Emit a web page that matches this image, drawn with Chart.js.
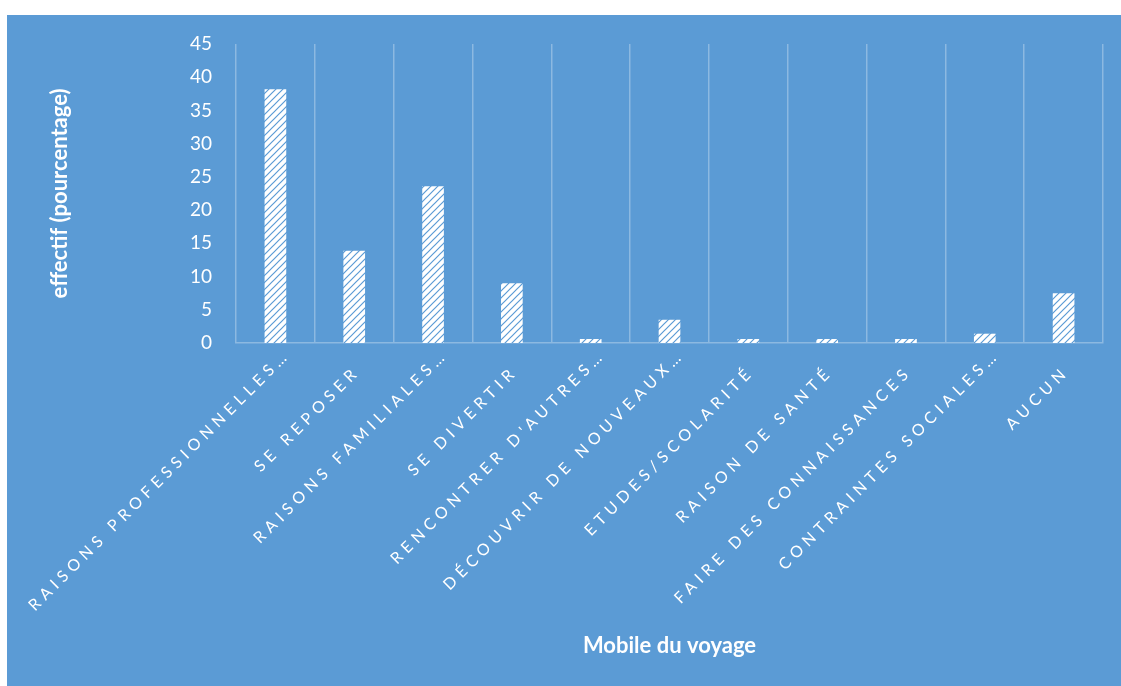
<!DOCTYPE html>
<html lang="fr">
<head>
<meta charset="utf-8">
<title>Mobile du voyage</title>
<script src="https://cdn.jsdelivr.net/npm/chart.js@4.4.1/dist/chart.umd.min.js"></script>
<style>
  html, body { margin: 0; padding: 0; background: #fff; }
  #frame {
    position: absolute; left: 7px; top: 15px;
    width: 1114px; height: 671px;
    background: #5b9bd5;
  }
  canvas { display: block; }
</style>
</head>
<body>
<div id="frame"><canvas id="mobileChart" width="1114" height="671"></canvas></div>
<script>
// ─── Data ─────────────────────────────────────────────────────────────────────
const categories = [
    'RAISONS PROFESSIONNELLES…',
    'SE REPOSER',
    'RAISONS FAMILIALES…',
    'SE DIVERTIR',
    'RENCONTRER D\'AUTRES…',
    'DÉCOUVRIR DE NOUVEAUX…',
    'ETUDES/SCOLARITÉ',
    'RAISON DE SANTÉ',
    'FAIRE DES CONNAISSANCES',
    'CONTRAINTES SOCIALES…',
    'AUCUN'
];
const shares = [38.2, 13.9, 23.6, 9.0, 0.6, 3.5, 0.6, 0.6, 0.6, 1.4, 7.5];
const yMax = 45;
const yStep = 5;

const BLUE = '#5b9bd5';
const GRID = 'rgba(255,255,255,0.3)';
const FONT = 'Lato';

// white fill with thin upward diagonal stripes
function stripePattern() {
    const s = 7;
    const c = document.createElement('canvas');
    c.width = s; c.height = s;
    const g = c.getContext('2d');
    g.fillStyle = '#fff';
    g.fillRect(0, 0, s, s);
    g.strokeStyle = BLUE;
    g.lineWidth = 1.2;
    g.beginPath();
    g.moveTo(0, s); g.lineTo(s, 0);
    g.moveTo(-1, 1); g.lineTo(1, -1);
    g.moveTo(s - 1, s + 1); g.lineTo(s + 1, s - 1);
    g.stroke();
    return g.createPattern(c, 'repeat');
}

// category names, slanted and letter-spaced under the axis
const slantedLabels = {
    id: 'slantedLabels',
    afterDraw(chart) {
        const { ctx, chartArea, scales: { x } } = chart;
        ctx.save();
        ctx.fillStyle = '#fff';
        ctx.font = '16px ' + FONT;
        ctx.letterSpacing = '5px';
        ctx.textAlign = 'right';
        ctx.textBaseline = 'middle';
        categories.forEach((label, i) => {
            let px = x.getPixelForTick(i) + 3;
            let py = chartArea.bottom + 26;
            // clipped names run a bit further up the slope
            if (label.endsWith('…')) { px += 9; py -= 17; }
            ctx.save();
            ctx.translate(px, py);
            ctx.rotate(-Math.PI / 4);
            ctx.fillText(label, 0, 0);
            ctx.restore();
        });
        ctx.restore();
    }
};

// ─── Chart ────────────────────────────────────────────────────────────────────
const ctx = document.getElementById('mobileChart').getContext('2d');
new Chart(ctx, {
    type: 'bar',
    data: {
        labels: categories,
        datasets: [{
            data: shares,
            backgroundColor: stripePattern(),
            borderWidth: 0,
            categoryPercentage: 1,
            barPercentage: 0.275
        }]
    },
    options: {
        responsive: false,
        devicePixelRatio: 1,
        animation: false,
        layout: { padding: { top: 29, right: 18, left: 0, bottom: 0 } },
        plugins: {
            legend: { display: false },
            tooltip: { enabled: false }
        },
        scales: {
            x: {
                grid: { color: GRID, lineWidth: 1.5, drawTicks: false },
                border: { color: GRID, width: 1.5 },
                ticks: { display: false },
                title: {
                    display: true,
                    text: 'Mobile du voyage',
                    color: '#fff',
                    font: { family: FONT, size: 22, weight: 'bold' },
                    padding: { top: 0, bottom: 27 }
                },
                afterFit(scale) { scale.height = 343; }
            },
            y: {
                min: 0,
                max: yMax,
                grid: { display: false, drawTicks: false },
                border: { display: false },
                ticks: {
                    stepSize: yStep,
                    color: '#fff',
                    padding: 24,
                    font: { family: FONT, size: 19 }
                },
                title: {
                    display: true,
                    text: 'effectif (pourcentage)',
                    color: '#fff',
                    font: { family: FONT, size: 22, weight: 'bold' },
                    padding: { top: 40, bottom: 0 }
                },
                afterFit(scale) {
                    scale.width = 229;
                    // the layout padding alone fixes the plot top
                    scale.paddingTop = 0;
                    scale.paddingBottom = 0;
                }
            }
        }
    },
    plugins: [slantedLabels]
});
</script>
</body>
</html>
